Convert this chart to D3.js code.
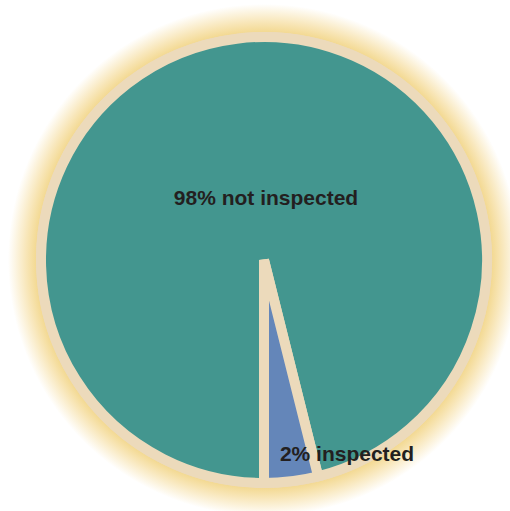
<!DOCTYPE html>
<html>
<head>
<meta charset="utf-8">
<script src="https://cdn.jsdelivr.net/npm/d3@7"></script>
<style>
  body { margin: 0; background: #fff; }
  text { font-family: "Liberation Sans", Arial, sans-serif; font-weight: bold; }
</style>
</head>
<body>
<div id="chart"></div>
<script>
// slice data, in drawing order (clockwise from the bottom)
var categories = ["not inspected", "inspected"];
var sliceValues = [96.1, 3.9];   // measured from the wedge angles in the picture
var labels = ["98% not inspected", "2% inspected"];
var colors = ["#43968f", "#6486b9"];

var svg = d3.select("#chart").append("svg").attr("width", 510).attr("height", 511),
    cx = 264,
    cy = 260,
    radius = 223

var defs = svg.append("defs");
// gradient sits in the translated group's space, so centre is 0,0
var glow = defs.append("radialGradient")
    .attr("id", "glow")
    .attr("gradientUnits", "userSpaceOnUse")
    .attr("cx", 0).attr("cy", 0).attr("r", 256);
glow.append("stop").attr("offset", 228 / 256).attr("stop-color", "#f3d992");
glow.append("stop").attr("offset", 238 / 256).attr("stop-color", "#f8e6b8");
glow.append("stop").attr("offset", 1).attr("stop-color", "#ffffff");

var g = svg.append("g")
           .attr("transform", "translate(" + cx + "," + cy + ")");

// soft yellow halo + beige rim
g.append("circle").attr("r", 256).attr("fill", "url(#glow)");
g.append("circle").attr("r", radius + 5).attr("fill", "#ecdabb");

var pie = d3.pie()
    .sort(null)
    .value(function(d) { return d; })
    .startAngle(-Math.PI)
    .endAngle(Math.PI);

var arc = d3.arc().innerRadius(0).outerRadius(radius);

g.selectAll(".slice")
 .data(pie(sliceValues))
 .enter().append("path")
 .attr("class", "slice")
 .attr("d", arc)
 .attr("fill", function(d, i) { return colors[i]; })
 .attr("stroke", "#ecdabb")
 .attr("stroke-width", 10);

// label offsets from the pie centre
var labelPos = [[2, -55], [83, 201]];

g.selectAll(".label")
 .data(labels)
 .enter().append("text")
 .attr("class", "label")
 .attr("x", function(d, i) { return labelPos[i][0]; })
 .attr("y", function(d, i) { return labelPos[i][1]; })
 .attr("text-anchor", "middle")
 .attr("font-size", "21px")
 .attr("fill", "#231f20")
 .text(function(d) { return d; });
</script>
</body>
</html>
